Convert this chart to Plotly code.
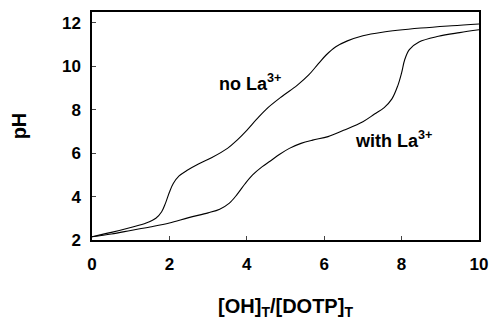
import plotly.graph_objects as go

x_no = [0.0, 0.5, 1.0, 1.4, 1.65, 1.8, 1.9, 2.0, 2.1, 2.25, 2.45, 2.75, 3.1, 3.5, 3.75, 4.0, 4.25, 4.5, 4.9, 5.3, 5.6, 5.85, 6.05, 6.3, 6.6, 7.0, 7.5, 8.5, 9.3, 10.0]
y_no = [2.15, 2.35, 2.58, 2.78, 3.0, 3.3, 3.7, 4.2, 4.6, 4.95, 5.2, 5.5, 5.8, 6.22, 6.6, 7.05, 7.55, 8.02, 8.6, 9.12, 9.6, 10.12, 10.52, 10.9, 11.17, 11.41, 11.57, 11.76, 11.87, 11.95]

x_la = [0.0, 0.5, 1.0, 1.5, 2.0, 2.5, 3.0, 3.3, 3.55, 3.75, 3.95, 4.15, 4.4, 4.6, 4.85, 5.1, 5.4, 5.7, 6.1, 6.5, 7.0, 7.3, 7.55, 7.75, 7.9, 8.0, 8.08, 8.2, 8.45, 8.95, 9.5, 10.0]
y_la = [2.15, 2.28, 2.44, 2.6, 2.78, 3.03, 3.25, 3.42, 3.7, 4.1, 4.58, 5.0, 5.38, 5.63, 5.95, 6.22, 6.45, 6.6, 6.76, 7.05, 7.45, 7.8, 8.1, 8.5, 9.1, 9.7, 10.3, 10.77, 11.12, 11.38, 11.55, 11.68]

x_ticks = [0, 2, 4, 6, 8, 10]
y_ticks = [2, 4, 6, 8, 10, 12]

font_family = "Liberation Sans, Arial, sans-serif"

fig = go.Figure()
for xs, ys in [(x_no, y_no), (x_la, y_la)]:
    fig.add_trace(go.Scatter(x=xs, y=ys, mode="lines",
                             line=dict(color="black", width=1.1, shape="spline", smoothing=1.0),
                             showlegend=False))

fig.add_annotation(x=4.07, y=9.25, text="<b>no La<sup>3+</sup></b>", showarrow=False,
                   font=dict(family=font_family, size=18, color="black"))
fig.add_annotation(x=7.8, y=6.65, text="<b>with La<sup>3+</sup></b>", showarrow=False,
                   font=dict(family=font_family, size=18, color="black"))

fig.update_layout(
    width=498, height=324,
    margin=dict(l=92, r=10, t=12, b=81),
    paper_bgcolor="white", plot_bgcolor="white",
    font=dict(family=font_family, color="black"),
    xaxis=dict(range=[0, 10], tickvals=x_ticks, ticks="inside", ticklen=4, tickwidth=1,
               showline=True, linecolor="black", linewidth=1.5, mirror=True, showgrid=False, zeroline=False,
               tickfont=dict(size=17, weight="bold", family=font_family), ticklabelstandoff=8,
               title=dict(text="<b>[OH]<sub>T</sub>/[DOTP]<sub>T</sub></b>", font=dict(size=20, family=font_family), standoff=26)),
    yaxis=dict(range=[2, 12.5], tickvals=y_ticks, ticks="inside", ticklen=4, tickwidth=1,
               showline=True, linecolor="black", linewidth=1.5, mirror=True, showgrid=False, zeroline=False,
               tickfont=dict(size=17, weight="bold", family=font_family), ticklabelstandoff=6,
               title=dict(text="<b>pH</b>", font=dict(size=20, family=font_family), standoff=30)),
)

fig.write_html("out.html")
